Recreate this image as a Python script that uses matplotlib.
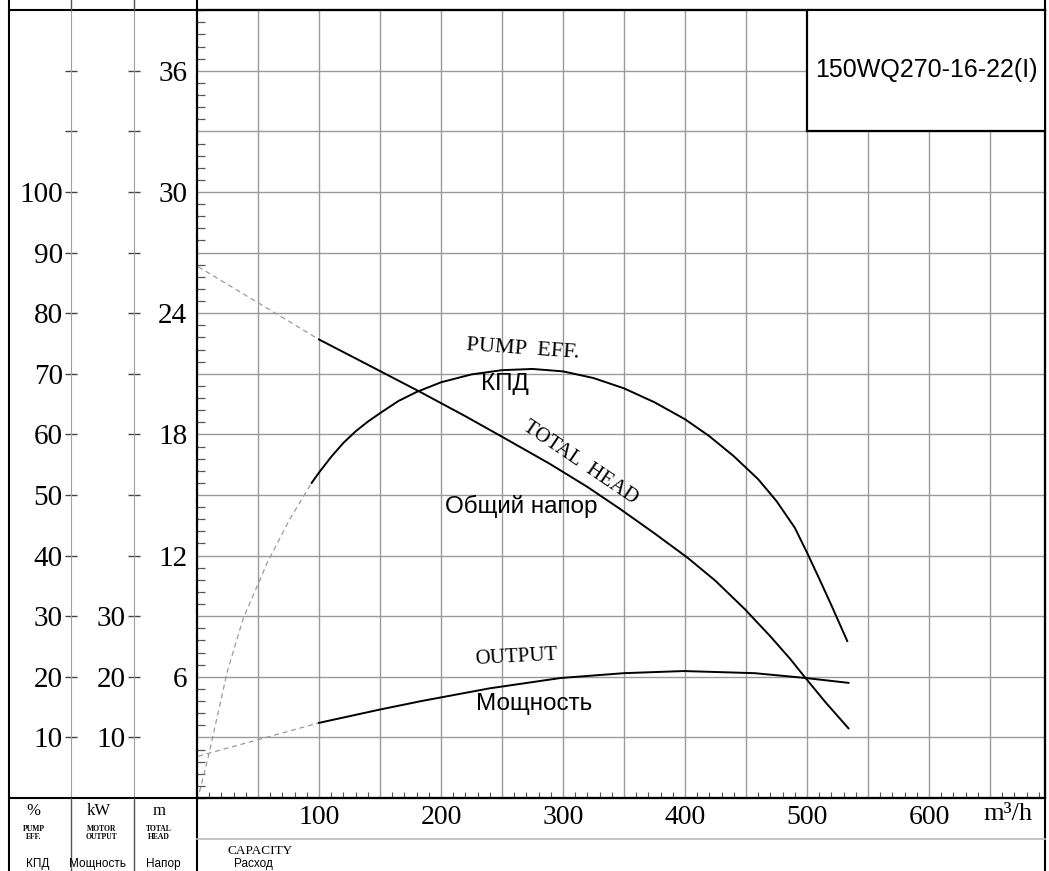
import numpy as np
import matplotlib
matplotlib.use("Agg")
import matplotlib.pyplot as plt
from matplotlib.lines import Line2D
from matplotlib.patches import Rectangle
from matplotlib.ticker import MultipleLocator, FuncFormatter

plt.rcParams['font.family'] = ['Liberation Serif', 'DejaVu Serif']
SANS = ['Liberation Sans', 'DejaVu Sans']

# pump curves, Q in m3/h
head_q = [100, 140, 183, 220, 251, 289, 320, 347, 375, 402, 425, 449, 470, 486, 498, 515, 534]
head_m = [22.7, 21.45, 20.1, 18.9, 17.85, 16.55, 15.4, 14.3, 13.1, 11.9, 10.75, 9.35, 8.0, 6.9, 6.0, 4.75, 3.45]
head_ext_q = [1, 100]
head_ext_m = [26.3, 22.7]

eff_q = [94, 100, 110, 120, 130, 140, 150, 165, 180, 200, 225, 250, 275, 300, 325, 350, 375, 400,
         420, 440, 460, 475, 490, 500, 510, 520, 533]
eff_pct = [52.0, 53.7, 56.3, 58.6, 60.5, 62.1, 63.5, 65.5, 67.0, 68.6, 69.9, 70.6, 70.8, 70.4, 69.3,
           67.6, 65.3, 62.5, 59.7, 56.4, 52.6, 49.0, 44.6, 40.5, 36.2, 31.8, 25.9]
eff_ext_q = [2, 9, 25, 38, 58, 76, 94]
eff_ext_pct = [1.0, 6.6, 21.0, 29.7, 39.0, 46.0, 52.0]

pow_q = [100, 125, 150, 184, 240, 298, 350, 399, 457, 499, 534]
pow_kw = [12.4, 13.5, 14.6, 16.0, 18.1, 19.8, 20.6, 20.95, 20.6, 19.8, 19.0]
pow_ext_q = [1, 100]
pow_ext_kw = [6.9, 12.4]

q_labels = [100, 200, 300, 400, 500, 600]
head_labels = [6, 12, 18, 24, 30, 36]
eff_labels = [10, 20, 30, 40, 50, 60, 70, 80, 90, 100]
kw_labels = [10, 20, 30]
model = "150WQ270-16-22(I)"

W, H = 1049, 871
X0, X1, Y0, Y1 = 197, 1045, 798, 10

fig = plt.figure(figsize=(W / 100, H / 100), dpi=100)


def fline(xa, ya, xb, yb, color='black', lw=1.5):
    fig.add_artist(Line2D([xa / W, xb / W], [1 - ya / H, 1 - yb / H], color=color, lw=lw))


def ftext(x, y, s, **kw):
    fig.text(x / W, 1 - y / H, s, ha='center', va='center', **kw)


ax = fig.add_axes([X0 / W, 1 - Y0 / H, (X1 - X0) / W, (Y0 - Y1) / H])
ax.set_xlim(0, (X1 - X0) / 1.22)
ax.set_ylim(0, (Y0 - Y1) / 20.2)

ax.set_xticks(np.arange(50, 700, 50))
ax.xaxis.set_major_formatter(FuncFormatter(lambda v, p: f"{v:.0f}" if round(v) in q_labels else ""))
ax.xaxis.set_minor_locator(MultipleLocator(10))
ax.set_yticks(np.arange(3, 39, 3))
ax.yaxis.set_major_formatter(FuncFormatter(lambda v, p: f"{v:.0f}" if round(v) in head_labels else ""))
ax.yaxis.set_minor_locator(MultipleLocator(0.6))
ax.tick_params(axis='x', which='major', length=0, pad=5, labelsize=20)
ax.tick_params(axis='x', which='minor', direction='in', length=4.5, width=0.8, color='#555555')
ax.tick_params(axis='y', which='major', length=0, pad=7, labelsize=21)
ax.tick_params(axis='y', which='minor', direction='in', length=6, width=0.9, color='#555555')
ax.grid(True, which='major', color='#9a9a9a', lw=1)
ax.set_axisbelow(True)
for s in ax.spines.values():
    s.set_linewidth(1.6)


def side_axis(pos_px, labels):
    a = ax.twinx()
    a.set_ylim(0, ax.get_ylim()[1] * 10 / 3)
    for s in a.spines.values():
        s.set_visible(False)
    a.spines['left'].set_visible(True)
    a.spines['left'].set_position(('axes', (pos_px - X0) / (X1 - X0)))
    a.spines['left'].set_color('#a0a0a0')
    a.yaxis.set_ticks_position('left')
    a.set_yticks(np.arange(10, 130, 10))
    a.yaxis.set_major_formatter(FuncFormatter(lambda v, p: f"{v:.0f}" if round(v) in labels else ""))
    a.tick_params(axis='y', direction='inout', length=9, width=1, color='#444444', pad=1.5, labelsize=21)
    return a


ax_eff = side_axis(71, eff_labels)
ax_kw = side_axis(134, kw_labels)

dash = dict(color='#9a9a9a', lw=0.9, ls=(0, (4, 3)))
curve = dict(color='black', lw=1.4, solid_joinstyle='round')
ax.plot(head_ext_q, head_ext_m, **dash)
ax.plot(head_q, head_m, **curve)
ax_eff.plot(eff_ext_q, eff_ext_pct, **dash)
ax_eff.plot(eff_q, eff_pct, **curve)
ax_kw.plot(pow_ext_q, pow_ext_kw, **dash)
ax_kw.plot(pow_q, pow_kw, **curve)

# model box
ax.add_patch(Rectangle((500, 33), 200, 10, fc='white', ec='black', lw=1.6, zorder=3))
ax.text(597.5, 36.05, model, ha='center', va='center', fontsize=18, family=SANS, zorder=4)

# curve labels
ax.text(267, 22.2, "PUMP  EFF.", ha='center', va='center', fontsize=16, rotation=-4)
ax.text(252, 20.5, "КПД", ha='center', va='center', fontsize=17.5, family=SANS)
ax.text(314, 16.6, "TOTAL  HEAD", ha='center', va='center', fontsize=15, rotation=-34)
ax.text(265.5, 14.45, "Общий напор", ha='center', va='center', fontsize=17.5, family=SANS)
ax.text(262, 6.95, "OUTPUT", ha='center', va='center', fontsize=15, rotation=3)
ax.text(276, 4.65, "Мощность", ha='center', va='center', fontsize=17.5, family=SANS)

# frame around the sheet
fline(9, 0, 9, H)
fline(X1, 0, X1, H)
fline(9, Y1, X1, Y1)
fline(9, Y0, X1, Y0)
fline(X0, 0, X0, Y1)
fline(X0, Y0, X0, H)
for xc in (71, 134):
    fline(xc, 0, xc, Y1, color='#555555', lw=1)
    fline(xc, Y0, xc, H, color='#555555', lw=1)
fline(X0, 839, X1, 839, color='#bbbbbb', lw=1.2)

# captions under the axes
ftext(1008, 814, "m³/h", fontsize=19)
ftext(33, 811, "%", fontsize=12)
ftext(99, 811, "kW", fontsize=12)
ftext(159, 811, "m", fontsize=12)
ftext(34, 833, "PUMP\nEFF.", fontsize=5.5, fontweight='bold', linespacing=1.1)
ftext(102, 833, "MOTOR\nOUTPUT", fontsize=5.5, fontweight='bold', linespacing=1.1)
ftext(159, 833, "TOTAL\nHEAD", fontsize=5.5, fontweight='bold', linespacing=1.1)
ftext(38, 864, "КПД", fontsize=8.5, family=SANS)
ftext(98, 864, "Мощность", fontsize=8.5, family=SANS)
ftext(163, 864, "Напор", fontsize=8.5, family=SANS)
ftext(260, 851, "CAPACITY", fontsize=9.5)
ftext(253, 864, "Расход", fontsize=8.5, family=SANS)

fig.savefig("out.png", dpi=100)
